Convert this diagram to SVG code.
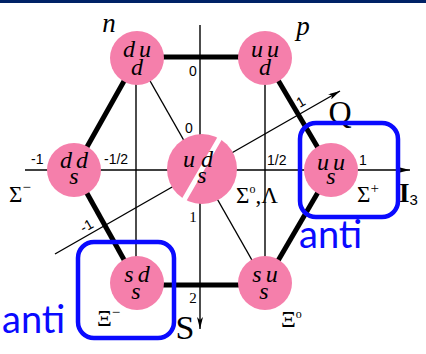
<svg xmlns="http://www.w3.org/2000/svg" width="426" height="354" viewBox="0 0 426 354">
<style>
.thin{stroke:#000;stroke-width:1.4;fill:none}
.thick{stroke:#000;stroke-width:5;fill:none}
.node{fill:#f57fab}
.q{font-family:"Liberation Serif",serif;font-style:italic;font-size:24px;text-anchor:middle;fill:#000}
.qq{letter-spacing:4px}
.num{font-family:"Liberation Sans",sans-serif;font-size:14px;fill:#000}
.snum{font-family:"Liberation Serif",serif;font-size:15px;fill:#000}
.lab{font-family:"Liberation Serif",serif;font-size:23px;fill:#000}
.sup{font-size:15px}
.box{fill:none;stroke:#0a0aff;stroke-width:4.5}
.anti{font-family:Lato,"Open Sans",sans-serif;font-size:38px;fill:#0a0aff}
</style>
<defs>
<marker id="ah" viewBox="0 0 12 6" refX="12" refY="3" markerWidth="12" markerHeight="6" markerUnits="userSpaceOnUse" orient="auto">
<path d="M0,0 L12,3 L0,6 L3,3 Z" fill="#000"/>
</marker>
</defs>
<rect x="0" y="0" width="426" height="3" fill="#002266"/>
<g id="connectors">
<line class="thin" x1="25" y1="170" x2="410" y2="170" marker-end="url(#ah)"/>
<line class="thin" x1="200" y1="25" x2="200" y2="329" marker-end="url(#ah)"/>
<line class="thin" x1="55" y1="254" x2="340" y2="91" marker-end="url(#ah)"/>
<line class="thin" x1="136" y1="58" x2="136" y2="283"/>
<line class="thin" x1="265" y1="58" x2="265" y2="283"/>
<line class="thin" x1="137" y1="58" x2="265" y2="283"/>
<line class="thick" x1="137" y1="57" x2="265" y2="57"/>
<line class="thick" x1="265" y1="58" x2="331" y2="170"/>
<line class="thick" x1="331" y1="170" x2="265" y2="283"/>
<line class="thick" x1="265" y1="285" x2="137" y2="285"/>
<line class="thick" x1="137" y1="283" x2="74" y2="170"/>
<line class="thick" x1="74" y1="170" x2="137" y2="58"/>
</g>
<g id="n">
<circle class="node" cx="137" cy="58" r="27"/>
<text class="q"><tspan class="qq" x="139" y="57">du</tspan><tspan x="137" y="75">d</tspan></text>
<text x="109" y="32" font-family="Liberation Serif,serif" font-style="italic" font-size="27" text-anchor="middle">n</text>
</g>
<g id="p">
<circle class="node" cx="265" cy="58" r="27"/>
<text class="q"><tspan class="qq" x="267" y="57">uu</tspan><tspan x="265" y="75">d</tspan></text>
<text x="303" y="35" font-family="Liberation Serif,serif" font-style="italic" font-size="27" text-anchor="middle">p</text>
</g>
<g id="sigma-minus">
<circle class="node" cx="74" cy="170" r="27"/>
<text class="q"><tspan class="qq" x="76" y="168">dd</tspan><tspan x="74" y="184">s</tspan></text>
<text class="lab" x="9" y="202">Σ<tspan class="sup" dy="-10">−</tspan></text>
</g>
<g id="sigma0-lambda">
<circle class="node" cx="202" cy="169" r="35"/>
<line x1="221" y1="136" x2="184" y2="200" stroke="#fff" stroke-width="5" stroke-linecap="round"/>
<text class="q"><tspan x="201" y="167" letter-spacing="6">ud</tspan><tspan x="202" y="183">s</tspan></text>
<text class="lab" x="236" y="203">Σ<tspan dy="-10" font-size="12">o</tspan><tspan dy="10">,Λ</tspan></text>
</g>
<g id="sigma-plus">
<circle class="node" cx="331" cy="170" r="27"/>
<text class="q"><tspan class="qq" x="333" y="170">uu</tspan><tspan x="331" y="184">s</tspan></text>
<text class="lab" x="357" y="202">Σ<tspan class="sup" dy="-9">+</tspan></text>
</g>
<g id="xi-minus">
<circle class="node" cx="137" cy="283" r="27"/>
<text class="q"><tspan class="qq" x="139" y="282">sd</tspan><tspan x="136" y="299">s</tspan></text>
<text class="lab" x="97" y="326">Ξ<tspan class="sup" dy="-9">−</tspan></text>
</g>
<g id="xi0">
<circle class="node" cx="265" cy="283" r="27"/>
<text class="q"><tspan class="qq" x="267" y="282">su</tspan><tspan x="264" y="299">s</tspan></text>
<text class="lab" x="281" y="327">Ξ<tspan dy="-9" font-size="12">o</tspan></text>
</g>
<g id="axis-labels">
<text class="num" x="193" y="76" text-anchor="middle">0</text>
<text class="num" x="189" y="133" text-anchor="middle">0</text>
<text class="num" x="31" y="164">-1</text>
<text class="num" x="104" y="164">-1/2</text>
<text class="num" x="267" y="165">1/2</text>
<text class="num" x="359" y="165">1</text>
<text class="snum" x="193" y="222" text-anchor="middle">1</text>
<text class="snum" x="193" y="303" text-anchor="middle">2</text>
<text class="num" transform="translate(303,106) rotate(-30)" text-anchor="middle">1</text>
<text class="num" transform="translate(89,230) rotate(-30)" text-anchor="middle">-1</text>
<text x="340" y="123" font-family="Liberation Serif,serif" font-size="32" text-anchor="middle">Q</text>
<text x="185" y="339" font-family="Liberation Serif,serif" font-size="34" text-anchor="middle">S</text>
<text x="399" y="202" font-family="Liberation Serif,serif" font-size="27" font-weight="bold">I<tspan font-family="Liberation Sans,sans-serif" font-weight="normal" font-size="15" dy="3">3</tspan></text>
</g>
<g id="highlights">
<rect class="box" x="300" y="123" width="98" height="94" rx="16"/>
<rect class="box" x="78" y="242" width="96" height="96" rx="16"/>
<text class="anti" x="299" y="248">anti</text>
<text class="anti" x="2" y="333">anti</text>
</g>
</svg>
